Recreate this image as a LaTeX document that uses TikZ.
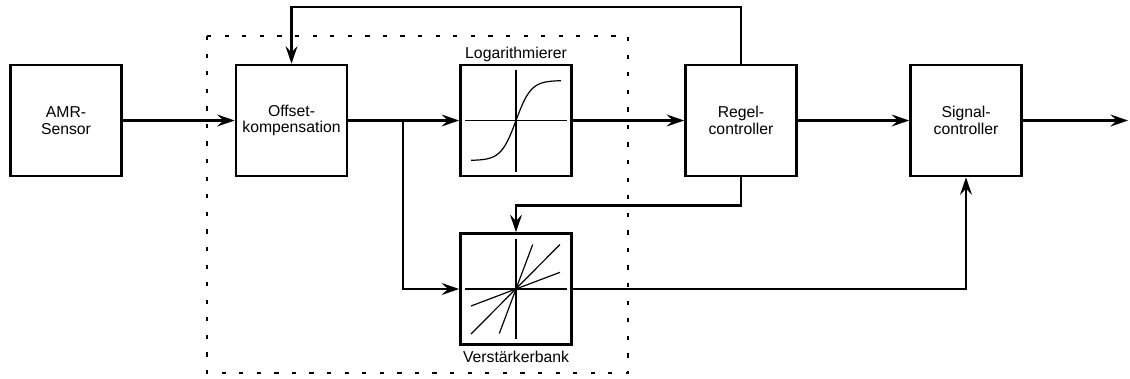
\documentclass[tikz,border=0pt]{standalone}
\usepackage{fontspec}
\setmainfont{Liberation Sans}
\usetikzlibrary{
    arrows.meta,
    positioning
}

\begin{document}
\begin{tikzpicture}[
        x=0.025cm, y=-0.025cm,
        block/.style={draw, line width=1.7pt, minimum width=2.78cm, minimum height=2.78cm,
                      inner sep=0pt, align=center,
                      font=\fontsize{11.2}{11.6}\selectfont},
        caption/.style={anchor=base, inner sep=0pt, font=\fontsize{11.2}{11.6}\selectfont},
        arr/.style={-{Stealth[length=12.5pt, width=8.5pt, inset=4.5pt]}, line width=1.7pt},
        axis/.style={line width=1.2pt},
        curve/.style={line width=0.85pt},
        dotbox/.style={line width=1.6pt, dash pattern=on 3pt off 9.5pt},
    ]
        \useasboundingbox (0,0) rectangle (1130,378);

        % dotted frame round the analog stage
        \draw[dotbox] (207,36) rectangle (628,373);

        % Blocks
        \node[block] (sensor) at (66,120.5) {AMR-\\Sensor};
        \node[block] (offset) at (291.5,120.5) {Offset-\\kompensation};
        \node[block] (log) at (516,120.5) {};
        \node[block] (amp) at (516,289) {};
        \node[block] (regel) at (741,120.5) {Regel-\\controller};
        \node[block] (signal) at (966,120.5) {Signal-\\controller};

        \node[caption] (loglabel) at ([yshift=4pt] log.north) {Logarithmierer};
        \node[caption] (amplabel) at ([yshift=-11.9pt] amp.south) {Verstärkerbank};

        % Characteristic curves
        \begin{scope}[shift={(log.center)}]
            \draw[axis] (-51,0) -- (51,0);
            \draw[axis] (0,-51) -- (0,51);
            \draw[curve] plot[domain=-45:45, samples=61, smooth] (\x, {-40*tanh(\x/15)});
        \end{scope}
        \begin{scope}[shift={(amp.center)}]
            \draw[axis] (-51,0) -- (51,0);
            \draw[axis] (0,-50) -- (0,50);
            \draw[curve] (-16.7,44.5) -- (16.7,-44.5);
            \draw[curve] (-45,45) -- (44,-44.5);
            \draw[curve] (-45,17) -- (44,-16.7);
        \end{scope}

        \coordinate (branch) at (403,120.5);
        \coordinate (out) at (1128,120.5);

        % Signal path
        \draw[arr] (sensor) -- (offset);
        \draw[arr] (offset) -- (log);
        \draw[arr] (branch) |- (amp.west);
        \draw[arr] (log) -- (regel);
        \draw[arr] (regel) -- (signal);
        \draw[arr] (signal) -- (out);
        \draw[arr] (amp.east) -| (signal.south);

        % Feedback
        \draw[arr] (regel.north) -- ++(0,-56.5) -| (offset.north);
        \draw[arr] (regel.south) -- ++(0,28) -| (amp.north);
    \end{tikzpicture}
\end{document}
